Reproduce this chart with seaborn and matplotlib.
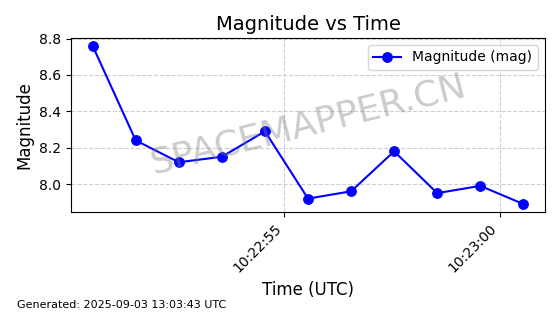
import matplotlib
matplotlib.use("Agg")
import matplotlib.pyplot as plt
import matplotlib.dates as mdates
import seaborn as sns
import pandas as pd

times = ["2025-09-03 10:22:50.55", "2025-09-03 10:22:51.55", "2025-09-03 10:22:52.55",
         "2025-09-03 10:22:53.55", "2025-09-03 10:22:54.55", "2025-09-03 10:22:55.55",
         "2025-09-03 10:22:56.55", "2025-09-03 10:22:57.55", "2025-09-03 10:22:58.55",
         "2025-09-03 10:22:59.55", "2025-09-03 10:23:00.55"]
magnitude = [8.76, 8.24, 8.12, 8.15, 8.29, 7.92, 7.96, 8.18, 7.95, 7.99, 7.89]

df = pd.DataFrame({"time": pd.to_datetime(times), "mag": magnitude})

fig, ax = plt.subplots(figsize=(5.6, 3.14), dpi=100)
sns.lineplot(data=df, x="time", y="mag", marker="o", color="blue", markersize=7,
             markeredgecolor="blue", linewidth=1.5, label="Magnitude (mag)", ax=ax)

ax.set_title("Magnitude vs Time", fontsize=14)
ax.set_xlabel("Time (UTC)", fontsize=12)
ax.set_ylabel("Magnitude", fontsize=12)
ax.grid(True, linestyle="--", alpha=0.6)
ax.xaxis.set_major_locator(mdates.SecondLocator(bysecond=range(0, 60, 5)))
ax.xaxis.set_major_formatter(mdates.DateFormatter("%H:%M:%S"))
plt.setp(ax.get_xticklabels(), rotation=45, ha="right")
ax.legend(loc="upper right", fontsize=10)

ax.text(0.5, 0.5, "SPACEMAPPER.CN", transform=ax.transAxes, fontsize=26,
        color="gray", alpha=0.4, rotation=14, ha="center", va="center")

fig.text(0.03, 0.02, "Generated: 2025-09-03 13:03:43 UTC", fontsize=8)

fig.subplots_adjust(left=0.127, right=0.973, top=0.879, bottom=0.325)
fig.savefig("out.png", dpi=100)
